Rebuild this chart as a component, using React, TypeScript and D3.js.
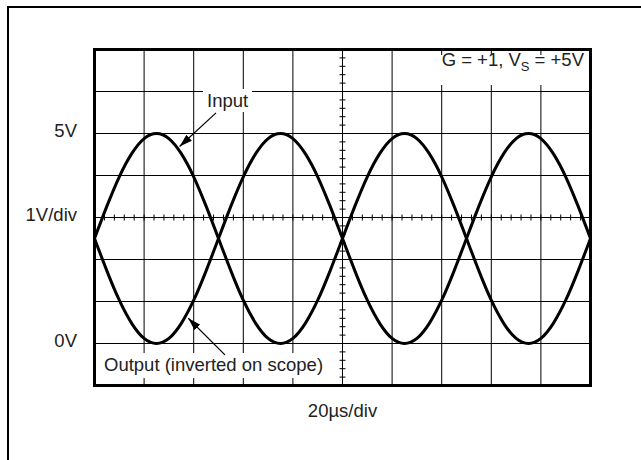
import React from "react";
import { scaleLinear, line, curveNatural, range } from "d3";

// time axis in microseconds (20us/div, 10 divisions), 5us steps
const timeUs = range(0, 201, 5);
// scope traces in volts
const inputVolts = [2.5, 3.27, 3.97, 4.52, 4.88, 5, 4.88, 4.52, 3.97, 3.27, 2.5, 1.73, 1.03, 0.48, 0.12, 0, 0.12, 0.48, 1.03, 1.73,
  2.5, 3.27, 3.97, 4.52, 4.88, 5, 4.88, 4.52, 3.97, 3.27, 2.5, 1.73, 1.03, 0.48, 0.12, 0, 0.12, 0.48, 1.03, 1.73, 2.5];
const outputVolts = [2.5, 1.73, 1.03, 0.48, 0.12, 0, 0.12, 0.48, 1.03, 1.73, 2.5, 3.27, 3.97, 4.52, 4.88, 5, 4.88, 4.52, 3.97, 3.27,
  2.5, 1.73, 1.03, 0.48, 0.12, 0, 0.12, 0.48, 1.03, 1.73, 2.5, 3.27, 3.97, 4.52, 4.88, 5, 4.88, 4.52, 3.97, 3.27, 2.5];

const xDivs = range(0, 201, 20);
const yDivs = range(-1, 8, 1);
const yLabels = [
  { v: 5, text: "5V" },
  { v: 3, text: "1V/div" },
  { v: 0, text: "0V" },
];
const xLabel = "20µs/div";

const FONT = "'Liberation Sans', Arial, Helvetica, sans-serif";

export default function App() {
  const width = 641;
  const height = 460;

  const xScale = scaleLinear().domain([0, 200]).range([94.5, 590.5]);
  const yScale = scaleLinear().domain([-1, 7]).range([385.5, 49.5]);

  const trace = line<number>()
    .x((_, i) => xScale(timeUs[i]))
    .y((d) => yScale(d))
    .curve(curveNatural);

  const minorX = range(0, 200.01, 4);
  const minorY = range(-1, 7.001, 0.2);

  // annotation anchors, in data units (time us, volts)
  const inputArrow = { from: [49, 5.49], to: [34.3, 4.69] };
  const outputArrow = { from: [52.6, -0.27], to: [37.8, 0.6] };

  return (
    <svg width={width} height={height} style={{ position: "absolute", left: 0, top: 0 }} fontFamily={FONT}>
      <defs>
        <marker id="head" viewBox="0 0 13 8" refX="13" refY="4" markerWidth="13" markerHeight="8"
          markerUnits="userSpaceOnUse" orient="auto">
          <path d="M0,0 L13,4 L0,8 Z" fill="#000" />
        </marker>
      </defs>
      <rect x={0} y={0} width={width} height={height} fill="#fff" />
      {/* outer frame, runs off the page at the right and bottom */}
      <rect x={8} y={7} width={700} height={600} fill="none" stroke="#000" strokeWidth={2} />

      {/* graticule */}
      {xDivs.map((t) => (
        <line key={"gx" + t} x1={xScale(t)} x2={xScale(t)} y1={yScale(7)} y2={yScale(-1)} stroke="#000" strokeWidth={1} />
      ))}
      {yDivs.map((v) => (
        <line key={"gy" + v} x1={xScale(0)} x2={xScale(200)} y1={yScale(v)} y2={yScale(v)} stroke="#000" strokeWidth={1} />
      ))}
      {minorX.map((t) => (
        <line key={"mx" + t} x1={xScale(t)} x2={xScale(t)} y1={yScale(3) - 3} y2={yScale(3) + 3} stroke="#000" strokeWidth={1} />
      ))}
      {minorY.map((v) => (
        <line key={"my" + v} x1={xScale(100) - 3} x2={xScale(100) + 3} y1={yScale(v)} y2={yScale(v)} stroke="#000" strokeWidth={1} />
      ))}

      {/* white boxes behind the in-screen notes */}
      <rect x={436} y={55} width={152} height={30} fill="#fff" />
      <rect x={203} y={89} width={49} height={23} fill="#fff" />
      <rect x={100} y={353} width={228} height={25} fill="#fff" />

      {/* traces */}
      <path d={trace(inputVolts) ?? ""} fill="none" stroke="#000" strokeWidth={3} />
      <path d={trace(outputVolts) ?? ""} fill="none" stroke="#000" strokeWidth={3} />

      {/* screen border */}
      <rect x={xScale(0)} y={yScale(7)} width={xScale(200) - xScale(0)} height={yScale(-1) - yScale(7)}
        fill="none" stroke="#000" strokeWidth={3} />

      {/* notes */}
      <text x={584} y={66} fontSize={18.5} textAnchor="end" fill="#222">
        G = +1, V<tspan fontSize={13} dy={5}>S</tspan><tspan dy={-5}> = +5V</tspan>
      </text>
      <text x={207} y={107} fontSize={18.5} fill="#222">Input</text>
      <line x1={xScale(inputArrow.from[0])} y1={yScale(inputArrow.from[1])} x2={xScale(inputArrow.to[0])} y2={yScale(inputArrow.to[1])}
        stroke="#000" strokeWidth={1.2} markerEnd="url(#head)" />
      <text x={104} y={371} fontSize={18.5} fill="#222">Output (inverted on scope)</text>
      <line x1={xScale(outputArrow.from[0])} y1={yScale(outputArrow.from[1])} x2={xScale(outputArrow.to[0])} y2={yScale(outputArrow.to[1])}
        stroke="#000" strokeWidth={1.2} markerEnd="url(#head)" />

      {/* axis notes */}
      {yLabels.map((d) => (
        <text key={d.text} x={77} y={yScale(d.v) + 3.5} fontSize={18.5} textAnchor="end" fill="#222">{d.text}</text>
      ))}
      <text x={xScale(100)} y={417} fontSize={18.5} textAnchor="middle" fill="#222">{xLabel}</text>
    </svg>
  );
}
